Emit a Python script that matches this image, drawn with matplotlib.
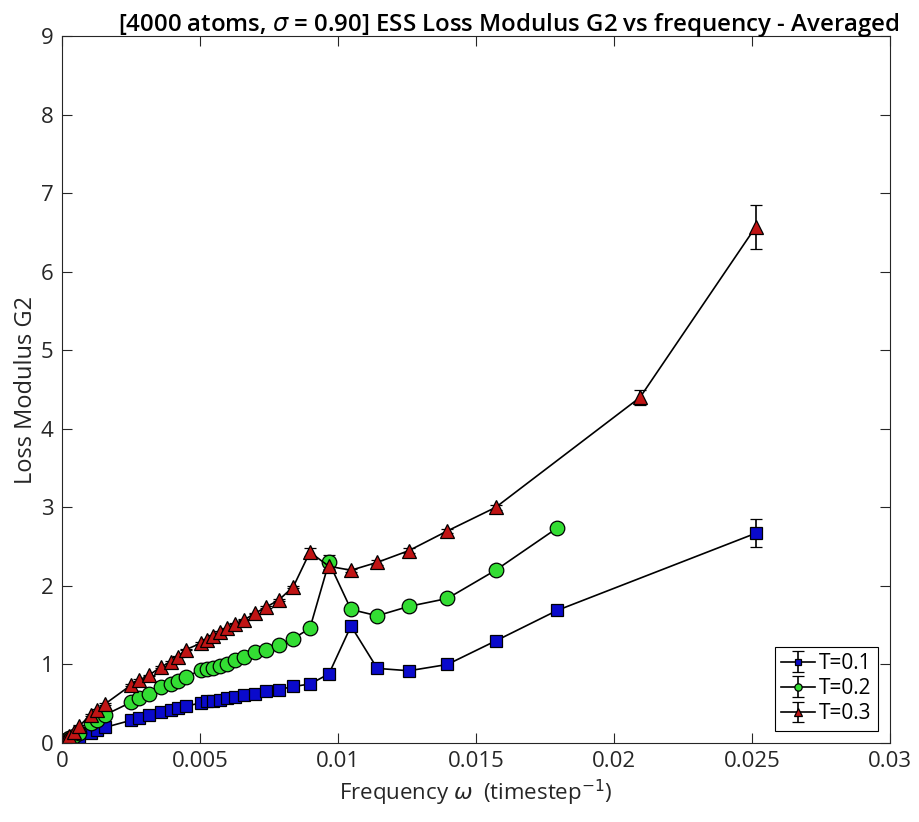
import numpy as np
import matplotlib
matplotlib.use("Agg")
import matplotlib.pyplot as plt
from matplotlib.ticker import FixedLocator, FuncFormatter

plt.rcParams['font.family'] = ['Open Sans', 'DejaVu Sans']
plt.rcParams['mathtext.fontset'] = 'dejavusans'

# frecuencias (timestep^-1)
freq = [0.00006, 0.00013, 0.00025, 0.00042, 0.00063, 0.00105, 0.00126, 0.00157,
        0.00251, 0.00279, 0.00314, 0.00359, 0.00393, 0.00419, 0.00449, 0.00503,
        0.00524, 0.00546, 0.00571, 0.00598, 0.00628, 0.00661, 0.00698, 0.00739,
        0.00785, 0.00838, 0.00898, 0.00967, 0.01047, 0.01142, 0.01257, 0.01396,
        0.01571, 0.01795, 0.02094, 0.02513]

nan = np.nan
g2_t01 = [0.01, 0.02, 0.03, 0.05, 0.08, 0.13, 0.16, 0.20,
          0.29, 0.32, 0.36, 0.40, 0.42, 0.44, 0.47, 0.51,
          0.53, 0.54, 0.55, 0.57, 0.59, 0.61, 0.63, 0.66,
          0.68, 0.72, 0.75, 0.88, 1.49, 0.95, 0.92, 1.00,
          1.30, 1.69, nan, 2.67]
g2_t02 = [0.02, 0.04, 0.06, 0.09, 0.13, 0.25, 0.29, 0.36,
          0.52, 0.57, 0.63, 0.71, 0.75, 0.79, 0.84, 0.93,
          0.94, 0.96, 0.98, 1.01, 1.06, 1.10, 1.16, 1.19,
          1.25, 1.33, 1.46, 2.30, 1.70, 1.62, 1.74, 1.84,
          2.20, 2.74, nan, nan]
g2_t03 = [0.02, 0.05, 0.09, 0.14, 0.22, 0.36, 0.42, 0.50,
          0.74, 0.80, 0.86, 0.97, 1.03, 1.10, 1.19, 1.27,
          1.31, 1.36, 1.41, 1.46, 1.52, 1.57, 1.65, 1.73,
          1.82, 1.99, 2.43, 2.25, 2.20, 2.30, 2.45, 2.70,
          3.00, nan, 4.40, 6.57]

# errores (desviacion)
err_t01 = [0.01] * 28 + [0.04, 0.02, 0.02, 0.03, 0.03, 0.03, nan, 0.18]
err_t02 = [0.01] * 27 + [0.10, 0.03, 0.02, 0.03, 0.03, 0.03, 0.03, nan, nan]
err_t03 = [0.01] * 26 + [0.05, 0.04, 0.02, 0.03, 0.03, 0.03, 0.03, nan, 0.10, 0.28]

labels = ["T=0.1", "T=0.2", "T=0.3"]


def clean(x, y, e):
    x = np.array(x)
    y = np.array(y, dtype=float)
    e = np.array(e, dtype=float)
    m = ~np.isnan(y)
    return x[m], y[m], e[m]


fig = plt.figure(figsize=(9.19, 8.22), dpi=100)
ax = fig.add_axes([0.0675, 0.0961, 0.9010, 0.8599])

styles = [
    dict(marker="s", mfc="#0a0acc", ms=9),
    dict(marker="o", mfc="#33dd33", ms=10.5),
    dict(marker="^", mfc="#c01414", ms=10.5),
]

for ys, es, lab, st in zip([g2_t01, g2_t02, g2_t03], [err_t01, err_t02, err_t03], labels, styles):
    x, y, e = clean(freq, ys, es)
    ax.errorbar(x, y, yerr=e, color="black", lw=1.2, elinewidth=1.2, capsize=4,
                capthick=1.2, marker=st["marker"], markersize=st["ms"],
                markerfacecolor=st["mfc"], markeredgecolor="black", markeredgewidth=0.9,
                label=lab)

ax.set_xlim(0, 0.03)
ax.set_ylim(0, 9)
ax.xaxis.set_major_locator(FixedLocator([0, 0.005, 0.01, 0.015, 0.02, 0.025, 0.03]))
ax.yaxis.set_major_locator(FixedLocator(range(10)))
ax.xaxis.set_major_formatter(FuncFormatter(lambda v, p: "%g" % round(v, 4)))
ax.tick_params(direction="in", length=7, width=0.8, top=True, right=True,
               labelsize=16, colors="#262626", pad=6)
for s in ax.spines.values():
    s.set_color("#262626")
    s.set_linewidth(0.8)

ax.set_xlabel(r"Frequency $\omega$  (timestep$^{-1}$)", fontsize=16, color="#262626")
ax.set_ylabel("Loss Modulus G2", fontsize=17, color="#262626", labelpad=2)
ax.set_title(r"[4000 atoms, $\sigma$ = 0.90] ESS Loss Modulus G2 vs frequency - Averaged",
             fontsize=17.3, fontweight="semibold", pad=4, x=0.54)

leg = ax.legend(loc="lower right", fontsize=15, markerscale=0.5, fancybox=False,
                edgecolor="black", framealpha=1, borderaxespad=0.6, handlelength=1.6,
                handletextpad=0.2, borderpad=0.3, labelspacing=0.2)
leg.get_frame().set_linewidth(0.8)

fig.savefig("out.png", dpi=100)
